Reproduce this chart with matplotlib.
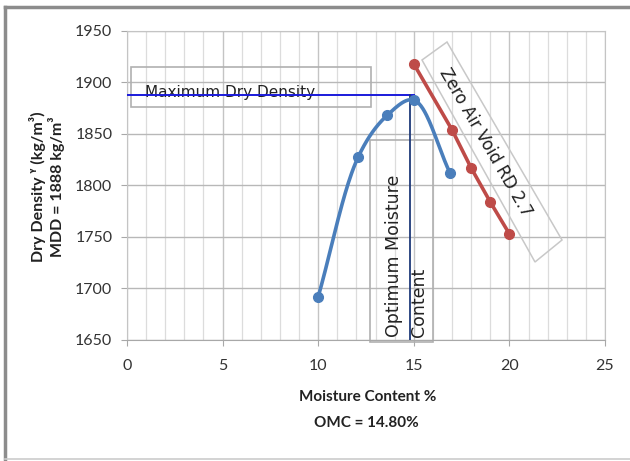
import numpy as np
import matplotlib
matplotlib.use("Agg")
import matplotlib.pyplot as plt
from matplotlib.patches import Rectangle, Polygon

# data
mc_blue = [10.0, 12.1, 13.6, 15.0, 16.9]
dd_blue = [1692, 1828, 1868, 1883, 1812]
mc_red = [15.0, 17.0, 18.0, 19.0, 20.0]
dd_red = [1918, 1854, 1817, 1784, 1753]
mdd = 1888
omc = 14.8
xticks = [0, 5, 10, 15, 20, 25]
yticks = [1650, 1700, 1750, 1800, 1850, 1900, 1950]

FONT = ["Lato", "DejaVu Sans"]
ANNO = ["DejaVu Sans"]


def smooth(xs, ys, n=40, sx=478 / 25, sy=309 / 300):
    # centripetal Catmull-Rom curve for drawing the line (markers at the data points)
    P = np.column_stack([np.array(xs) * sx, np.array(ys) * sy])
    P = np.vstack([P[0] - (P[1] - P[0]), P, P[-1] + (P[-1] - P[-2])])
    out = []
    for i in range(1, len(P) - 2):
        p0, p1, p2, p3 = P[i - 1], P[i], P[i + 1], P[i + 2]
        t0 = 0.0
        t1 = t0 + np.linalg.norm(p1 - p0) ** 0.5
        t2 = t1 + np.linalg.norm(p2 - p1) ** 0.5
        t3 = t2 + np.linalg.norm(p3 - p2) ** 0.5
        t = np.linspace(t1, t2, n)[:, None]
        a1 = (t1 - t) / (t1 - t0) * p0 + (t - t0) / (t1 - t0) * p1
        a2 = (t2 - t) / (t2 - t1) * p1 + (t - t1) / (t2 - t1) * p2
        a3 = (t3 - t) / (t3 - t2) * p2 + (t - t2) / (t3 - t2) * p3
        b1 = (t2 - t) / (t2 - t0) * a1 + (t - t0) / (t2 - t0) * a2
        b2 = (t3 - t) / (t3 - t1) * a2 + (t - t1) / (t3 - t1) * a3
        c = (t2 - t) / (t2 - t1) * b1 + (t - t1) / (t2 - t1) * b2
        out.append(c)
    c = np.vstack(out)
    return c[:, 0] / sx, c[:, 1] / sy


fig = plt.figure(figsize=(6.3, 4.61), dpi=100)
ax = fig.add_axes([127 / 630, 1 - 340 / 461, (605 - 127) / 630, (340 - 31) / 461])

ax.set_xlim(0, 25)
ax.set_ylim(1650, 1950)
ax.set_xticks(xticks)
ax.set_yticks(yticks)
ax.set_xticks(np.arange(0, 26, 1), minor=True)
ax.grid(which="minor", axis="x", color="#dcdcdc", lw=0.9)
ax.grid(which="major", axis="x", color="#c4c4c4", lw=1.0)
ax.grid(which="major", axis="y", color="#b8b8b8", lw=1.0)
ax.set_axisbelow(True)
for s in ax.spines.values():
    s.set_color("#c4c4c4")
ax.spines["bottom"].set_color("#a8a8a8")
ax.tick_params(axis="both", which="major", length=4.5, color="#a8a8a8", labelcolor="#333333",
               labelsize=11.5)
ax.tick_params(axis="y", pad=6)
ax.tick_params(axis="x", pad=9)
ax.tick_params(axis="x", which="minor", length=0)
for lab in ax.get_xticklabels() + ax.get_yticklabels():
    lab.set_family(FONT)

# annotation boxes
ax.add_patch(Rectangle((0.2, 1876), 12.55, 39, fill=False, ec="#b0b0b0", lw=1.2, zorder=2))
ax.text(0.95, 1890, "Maximum Dry Density", fontsize=11, family=ANNO, color="#222222",
        va="center", ha="left", zorder=3)
ax.add_patch(Rectangle((12.7, 1648), 3.3, 196, fill=False, ec="#b0b0b0", lw=1.2, zorder=2,
                       clip_on=False))
ax.text(14.62, 1653, "Optimum Moisture\nContent", fontsize=12.5, family=ANNO,
        color="#222222", rotation=90, ha="center", va="bottom", multialignment="left",
        zorder=3, linespacing=1.45)

# MDD and OMC lines
ax.plot([0, 15], [mdd, mdd], color="#1a1adb", lw=1.4, zorder=3)
ax.plot([omc, omc], [1650, mdd], color="#1f3a7a", lw=1.3, zorder=3)

# compaction curve
sx, sy = smooth(mc_blue, dd_blue)
ax.plot(sx, sy, color="#4a7ebb", lw=2.6, zorder=4, solid_capstyle="round")
ax.plot(mc_blue, dd_blue, "o", color="#4a7ebb", ms=7, zorder=5)

# zero air void line
ax.plot(mc_red, dd_red, "-o", color="#be4b48", lw=2.6, ms=7, zorder=5)


# rotated box for zero air void label (figure pixel coords)
def px(x, y):
    return (x, 461 - y)


corners = [px(422, 60), px(447, 42), px(562, 240), px(535, 262)]
fig.patches.append(Polygon(corners, closed=True, fill=False, ec="#c8c8c8", lw=1.1,
                           transform=None, figure=fig))
fig.text(485 / 630, 1 - 142 / 461, "Zero Air Void RD 2.7", fontsize=12, family=ANNO,
         color="#222222", rotation=-60, ha="center", va="center", rotation_mode="anchor")

# axis labels
fig.text(368 / 630, 1 - 397 / 461, "Moisture Content %", fontsize=11, fontweight="bold",
         family=FONT, ha="center", va="center", color="#222222")
fig.text(366 / 630, 1 - 423 / 461, "OMC = 14.80%", fontsize=11, fontweight="bold",
         family=FONT, ha="center", va="center", color="#222222")
fig.text(47 / 630, 1 - 187 / 461, "Dry Density \u1d5e (kg/m\u00b3)\nMDD = 1888 kg/m\u00b3",
         fontsize=11.5, fontweight="bold", family=FONT, rotation=90, ha="center",
         va="center", multialignment="center", color="#222222", linespacing=1.1)

# outer frame
fig.add_artist(plt.Line2D([5 / 630, 1], [1 - 7 / 461, 1 - 7 / 461], color="#8c8c8c", lw=2.5,
                          transform=fig.transFigure))
fig.add_artist(plt.Line2D([5 / 630, 5 / 630], [1 - 7 / 461, 1 - 459 / 461], color="#8c8c8c",
                          lw=2.5, transform=fig.transFigure))
fig.add_artist(plt.Line2D([5 / 630, 1], [1 - 459 / 461, 1 - 459 / 461], color="#cccccc",
                          lw=1.2, transform=fig.transFigure))

fig.savefig("out.png", dpi=100)
